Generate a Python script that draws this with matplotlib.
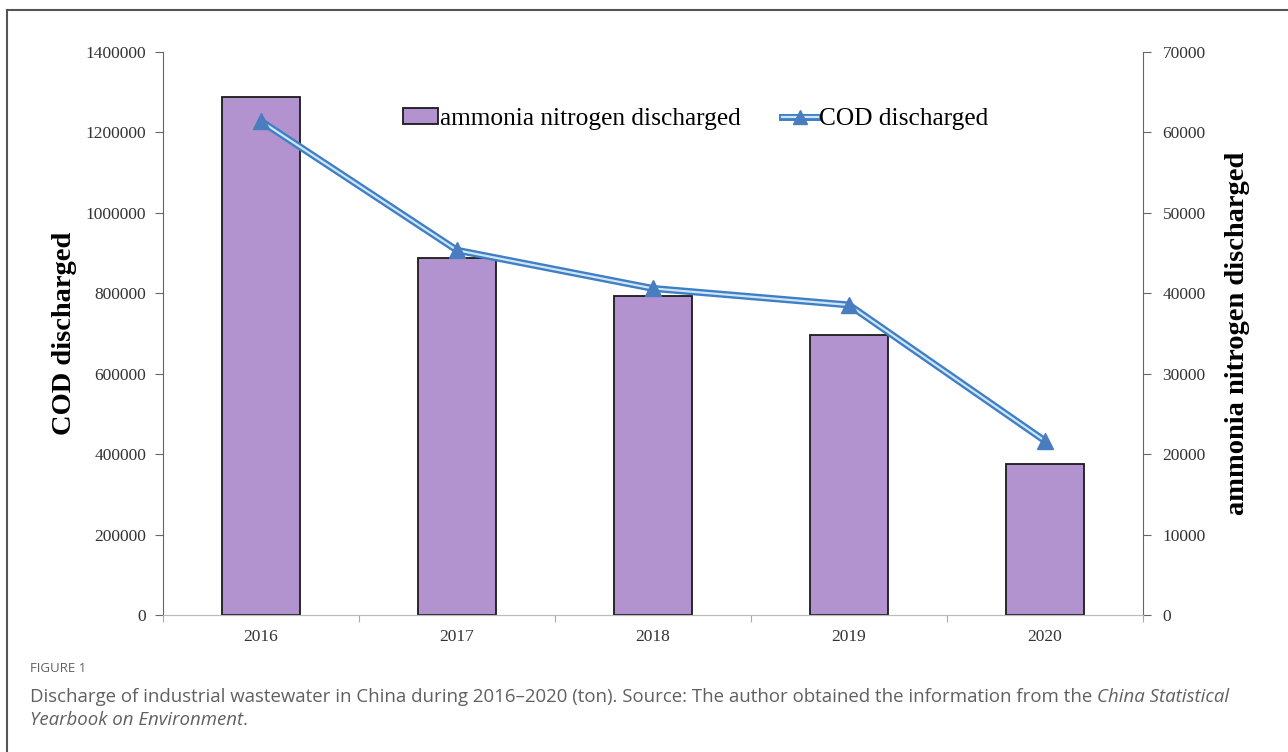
import matplotlib
matplotlib.use('Agg')
from matplotlib import pyplot as plt
from matplotlib.lines import Line2D
from matplotlib.ticker import FuncFormatter
from matplotlib.transforms import offset_copy

# data
years = ['2016', '2017', '2018', '2019', '2020']
ammonia = [64400, 44400, 39700, 34800, 18800]          # right axis (bars)
cod = [1228000, 907000, 812000, 771000, 433000]        # left axis (line)

serif = ['Liberation Serif', 'DejaVu Serif']

fig = plt.figure(figsize=(12.88, 7.52), dpi=100)
ax = fig.add_axes([163 / 1288, 1 - 615 / 752, 980 / 1288, 563 / 752])
ax2 = ax.twinx()

x = list(range(len(years)))

# bars on the right axis
ax2.bar(x, ammonia, width=0.4, color='#b393cf', edgecolor='#1a1a1a', linewidth=1.3, zorder=2)
ax2.set_ylim(0, 70000)
ax2.set_yticks(range(0, 70001, 10000))

# line on the left axis, drawn above the bars
ax.set_zorder(ax2.get_zorder() + 1)
ax.patch.set_visible(False)
ax.plot(x, cod, color='#3f7fc6', linewidth=5, solid_capstyle='round', zorder=3)
ax.plot(x, cod, color='#cfe6f7', linewidth=1.6, zorder=4)
ax.plot(x, cod, linestyle='none', marker='^', markersize=11, color='#4a7dbf', zorder=5)
ax.set_ylim(0, 1400000)
ax.set_yticks(range(0, 1400001, 200000))
ax.yaxis.set_major_formatter(FuncFormatter(lambda v, p: '%d' % v))
ax.set_xlim(-0.5, 4.5)

# x ticks between categories, labels at centres
ax.set_xticks([i + 0.5 for i in range(-1, 5)])
ax.set_xticklabels([])
ax.set_xticks(x, minor=True)
ax.set_xticklabels(years, minor=True)
ax.tick_params(axis='x', which='minor', length=0, pad=10)
ax.tick_params(axis='x', which='major', length=5, color='#aaaaaa')

for a in (ax, ax2):
    a.spines['top'].set_visible(False)
    a.spines['bottom'].set_color('#bbbbbb')
    a.spines['left'].set_color('#666666')
    a.spines['right'].set_color('#666666')
ax.spines['right'].set_visible(False)
ax2.spines['left'].set_visible(False)

for lab in ax.get_yticklabels() + ax2.get_yticklabels() + ax.get_xticklabels(minor=True):
    lab.set_family(serif)
    lab.set_fontsize(12.5)
    lab.set_color('#333333')
ax.tick_params(axis='y', length=6, color='#666666', pad=6)
ax2.tick_params(axis='y', length=6, color='#666666', pad=8)

ax.set_ylabel('COD discharged', family=serif, fontsize=20.5, fontweight='bold', labelpad=6)
ax2.set_ylabel('ammonia nitrogen discharged', family=serif, fontsize=20.5, fontweight='bold',
               labelpad=14)

# legend
handles = [
    plt.Rectangle((0, 0), 1, 1, facecolor='#b393cf', edgecolor='#1a1a1a', linewidth=1.3),
    (Line2D([], [], color='#3f7fc6', linewidth=5),
     Line2D([], [], color='#cfe6f7', linewidth=1.6),
     Line2D([], [], linestyle='none', marker='^', markersize=10, color='#4a7dbf')),
]
fig.legend(handles, ['ammonia nitrogen discharged', 'COD discharged'],
           loc='center', bbox_to_anchor=(0.54, 1 - 119 / 752), ncol=2, frameon=False,
           prop={'family': serif, 'size': 18.3}, handlelength=1.4, handletextpad=0.05,
           columnspacing=1.65, handleheight=0.6)

# figure frame (left and top edges)
fig.add_artist(Line2D([7 / 1288, 7 / 1288], [0, 1 - 10 / 752], color='#555555', linewidth=1.5,
                      transform=fig.transFigure))
fig.add_artist(Line2D([7 / 1288, 1], [1 - 10 / 752, 1 - 10 / 752], color='#555555', linewidth=1.5,
                      transform=fig.transFigure))

# caption
cap = ['Open Sans', 'DejaVu Sans']
grey = '#606060'
fig.text(30 / 1288, 1 - 668 / 752, 'FIGURE 1', family=cap, fontsize=9.5, color=grey,
         va='center')
t1 = fig.text(30 / 1288, 1 - 697 / 752,
              'Discharge of industrial wastewater in China during 2016\u20132020 (ton). Source: '
              'The author obtained the information from the ',
              family=cap, fontsize=13.4, color=grey, va='center')
t3 = fig.text(30 / 1288, 1 - 720 / 752, 'Yearbook on Environment', family=cap, fontsize=13.4,
              color=grey, va='center', style='italic')
renderer = fig.canvas.get_renderer()
w1 = t1.get_window_extent(renderer).width
w3 = t3.get_window_extent(renderer).width
fig.text(30 / 1288, 1 - 697 / 752, 'China Statistical', family=cap, fontsize=13.4, color=grey,
         va='center', style='italic',
         transform=offset_copy(fig.transFigure, fig=fig, x=w1, y=0, units='dots'))
fig.text(30 / 1288, 1 - 720 / 752, '.', family=cap, fontsize=13.4, color=grey, va='center',
         transform=offset_copy(fig.transFigure, fig=fig, x=w3, y=0, units='dots'))

fig.savefig('out.png', dpi=100)
